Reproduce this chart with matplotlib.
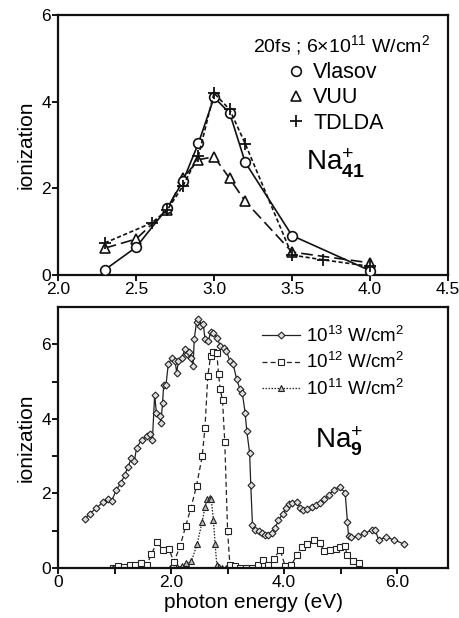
import numpy as np
import matplotlib
matplotlib.use('Agg')
import matplotlib.pyplot as plt
from matplotlib.lines import Line2D

plt.rcParams['font.family'] = ['Liberation Sans', 'DejaVu Sans']
plt.rcParams['mathtext.fontset'] = 'custom'
plt.rcParams['mathtext.rm'] = 'Liberation Sans'
plt.rcParams['mathtext.it'] = 'Liberation Sans:italic'
plt.rcParams['mathtext.bf'] = 'Liberation Sans:bold'

# top panel: Na41+, 20fs, 6e11 W/cm2
vlasov_x = [2.3, 2.5, 2.7, 2.8, 2.9, 3.0, 3.1, 3.2, 3.5, 4.0]
vlasov_y = [0.12, 0.64, 1.54, 2.16, 3.04, 4.10, 3.74, 2.60, 0.91, 0.10]
vuu_x = [2.3, 2.5, 2.7, 2.8, 2.9, 3.0, 3.1, 3.2, 3.5, 4.0]
vuu_y = [0.62, 0.83, 1.50, 2.23, 2.66, 2.73, 2.23, 1.70, 0.53, 0.28]
tdlda_x = [2.3, 2.6, 2.7, 2.8, 2.9, 3.0, 3.1, 3.2, 3.5, 3.7, 4.0]
tdlda_y = [0.74, 1.20, 1.50, 2.05, 2.75, 4.20, 3.82, 3.03, 0.46, 0.35, 0.20]

# bottom panel: Na9+
e13_x = [0.47, 0.56, 0.68, 0.80, 0.89, 0.95, 1.03, 1.12, 1.18, 1.24, 1.30, 1.35, 1.39,
         1.48, 1.57, 1.63, 1.67, 1.71, 1.74, 1.80, 1.82, 1.85, 1.87, 1.91, 1.95, 2.01,
         2.07, 2.10, 2.13, 2.19, 2.25, 2.28, 2.32, 2.35, 2.39, 2.41, 2.45, 2.48, 2.51,
         2.57, 2.60, 2.66, 2.70, 2.75, 2.81, 2.87, 2.93, 2.98, 3.04, 3.10, 3.16, 3.22,
         3.26, 3.31, 3.34, 3.39, 3.41, 3.44, 3.49, 3.55, 3.60, 3.66, 3.72, 3.78, 3.84,
         3.90, 3.98, 4.04, 4.08, 4.14, 4.23, 4.28, 4.34, 4.41, 4.49, 4.57, 4.64, 4.71,
         4.79, 4.88, 4.98, 5.08, 5.12, 5.14, 5.18, 5.30, 5.42, 5.56, 5.61, 5.67, 5.81,
         5.95, 6.12]
e13_y = [1.30, 1.46, 1.60, 1.78, 1.84, 1.80, 2.09, 2.29, 2.50, 2.72, 2.95, 2.86, 3.22,
         3.44, 3.53, 3.58, 3.44, 4.65, 4.16, 4.07, 3.90, 4.43, 4.92, 4.90, 5.46, 5.62,
         5.55, 5.24, 5.55, 5.64, 5.87, 5.73, 5.80, 5.64, 5.42, 6.14, 6.59, 6.69, 6.50,
         6.54, 6.14, 6.09, 6.32, 6.29, 6.18, 5.96, 5.91, 5.82, 5.55, 5.46, 5.06, 4.79,
         4.70, 4.16, 3.67, 3.08, 2.23, 1.15, 1.03, 1.00, 0.93, 0.88, 0.88, 0.93, 1.06,
         1.28, 1.46, 1.60, 1.72, 1.73, 1.78, 1.60, 1.55, 1.57, 1.64, 1.69, 1.75, 1.84,
         1.96, 2.09, 2.18, 2.02, 1.24, 0.85, 0.82, 0.85, 0.93, 1.02, 1.03, 0.76, 0.82,
         0.75, 0.64]
e12_x = [0.98, 1.06, 1.16, 1.27, 1.36, 1.46, 1.57, 1.65, 1.76, 1.85, 1.96, 2.05, 2.16,
         2.26, 2.35, 2.45, 2.55, 2.60, 2.65, 2.70, 2.75, 2.81, 2.84, 2.87, 2.91, 2.95,
         3.00, 3.04, 3.13, 3.22, 3.33, 3.44, 3.53, 3.63, 3.72, 3.82, 3.93, 4.02, 4.12,
         4.23, 4.31, 4.41, 4.52, 4.63, 4.71, 4.82, 4.91, 4.99, 5.08, 5.11, 5.21, 5.32]
e12_y = [0.00, 0.05, 0.03, 0.09, 0.07, 0.13, 0.07, 0.37, 0.70, 0.48, 0.52, 0.16, 0.58,
         1.13, 1.60, 2.20, 2.99, 3.76, 5.15, 5.69, 5.78, 5.76, 5.19, 4.79, 4.50, 3.38,
         1.00, 0.09, 0.05, 0.00, 0.00, 0.00, 0.07, 0.20, 0.09, 0.25, 0.49, 0.04, 0.07,
         0.34, 0.57, 0.64, 0.76, 0.66, 0.46, 0.48, 0.52, 0.57, 0.59, 0.34, 0.19, 0.12]
e11_x = [0.98, 1.98, 2.10, 2.19, 2.26, 2.36, 2.46, 2.55, 2.60, 2.64, 2.68, 2.71, 2.75,
         2.78, 2.81, 2.84, 2.90, 2.98]
e11_y = [0.00, 0.00, 0.03, 0.04, 0.12, 0.18, 0.63, 1.24, 1.63, 1.84, 1.87, 1.85, 1.28,
         0.63, 0.07, 0.03, 0.00, 0.00]

fig = plt.figure(figsize=(4.59, 6.18), dpi=100)
ax1 = fig.add_axes([0.1264, 0.555, 0.8497, 0.4207])
ax2 = fig.add_axes([0.1264, 0.081, 0.8497, 0.4223])

k = '#111111'
ax1.plot(vlasov_x, vlasov_y, '-', color=k, lw=1.2, marker='o', ms=7, mfc='white',
         mec=k, mew=1.2, zorder=3)
ax1.plot(vuu_x, vuu_y, color=k, lw=1.2, ls=(0, (7, 3)), marker='^', ms=7, mfc='white',
         mec=k, mew=1.2, zorder=2)
ax1.plot(tdlda_x, tdlda_y, color=k, lw=1.2, ls=(0, (2.5, 1.5)), marker='+', ms=9,
         mec=k, mew=1.3, zorder=4)

ax1.set_xlim(2.0, 4.5)
ax1.set_ylim(0, 6)
ax1.set_xticks([2.0, 2.5, 3.0, 3.5, 4.0, 4.5])
ax1.set_xticklabels(['2.0', '2.5', '3.0', '3.5', '4.0', '4.5'])
ax1.set_yticks([0, 2, 4, 6])
ax1.set_ylabel('ionization', fontsize=15, labelpad=4)

h = [Line2D([], [], ls='none', marker='o', ms=7, mfc='white', mec=k, mew=1.2),
     Line2D([], [], ls='none', marker='^', ms=7, mfc='white', mec=k, mew=1.2),
     Line2D([], [], ls='none', marker='+', ms=9, mec=k, mew=1.3)]
ax1.legend(h, ['Vlasov', 'VUU', 'TDLDA'], loc='upper left', bbox_to_anchor=(0.56, 0.86),
           frameon=False, fontsize=15.5, handlelength=0.8, handletextpad=0.4,
           labelspacing=0.2, borderpad=0)
ax1.text(0.5, 0.885, r'20fs ; 6$\times$10$^{11}$ W/cm$^2$', transform=ax1.transAxes,
         fontsize=14, ha='left', va='center')
ax1.text(0.635, 0.43, r'Na$_{\mathbf{41}}^{+}$', transform=ax1.transAxes,
         fontsize=20, ha='left', va='center')

ax2.plot(e13_x, e13_y, '-', color='#222222', lw=0.9, marker='D', ms=3.5, mfc='#e0e0e0',
         mec='#222222', mew=0.8, zorder=3,
         label=r'10$^{13}$ W/cm$^2$')
ax2.plot(e12_x, e12_y, color='#222222', lw=0.9, ls=(0, (4, 2.5)), marker='s', ms=4.5,
         mfc='white', mec='#222222', mew=0.8, zorder=2,
         label=r'10$^{12}$ W/cm$^2$')
ax2.plot(e11_x, e11_y, color='#222222', lw=0.9, ls=(0, (1.2, 1.2)), marker='^', ms=4,
         mfc='#bbbbbb', mec='#222222', mew=0.8, zorder=2,
         label=r'10$^{11}$ W/cm$^2$')

ax2.set_xlim(0, 6.9)
ax2.set_ylim(0, 7)
ax2.set_xticks([0, 2, 4, 6])
ax2.set_xticklabels(['0', '2.0', '4.0', '6.0'])
ax2.set_xticks([1, 3, 5], minor=True)
ax2.set_yticks([0, 2, 4, 6])
ax2.set_yticks([1, 3, 5], minor=True)
ax2.set_xlabel('photon energy (eV)', fontsize=15, labelpad=2)
ax2.set_ylabel('ionization', fontsize=15, labelpad=4)
ax2.legend(loc='upper right', bbox_to_anchor=(0.91, 0.965), frameon=False, fontsize=13.5,
           handlelength=2.0, handletextpad=0.3, labelspacing=0.35, borderpad=0)
ax2.text(0.66, 0.485, r'Na$_{\mathbf{9}}^{+}$', transform=ax2.transAxes,
         fontsize=20, ha='left', va='center')

for ax in (ax1, ax2):
    for s in ax.spines.values():
        s.set_linewidth(1.6)
        s.set_color('#111111')
    ax.tick_params(which='both', direction='out', width=1.3, labelsize=12.5, pad=1)
    ax.tick_params(which='major', length=4)
    ax.tick_params(which='minor', length=4)

fig.savefig('out.png', dpi=100)
